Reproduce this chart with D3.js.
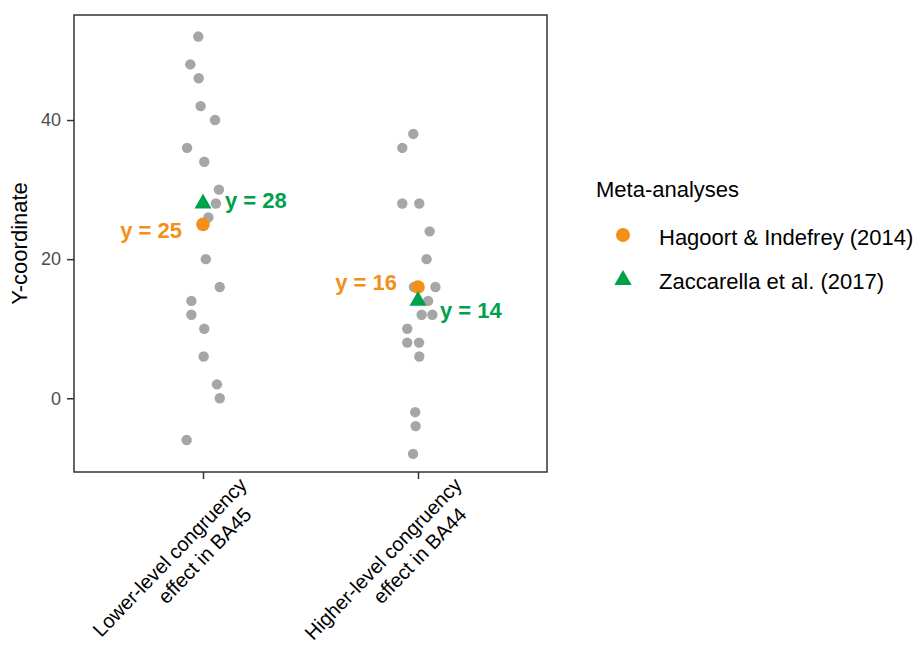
<!DOCTYPE html>
<html>
<head>
<meta charset="utf-8">
<script src="https://cdn.jsdelivr.net/npm/d3@7"></script>
<style>
  body { margin: 0; background: #fff; }
  text { font-family: "Liberation Sans", Arial, sans-serif; }
</style>
</head>
<body>
<div id="chart"></div>
<script>
// data
var categories = ["Lower-level congruency|effect in BA45", "Higher-level congruency|effect in BA44"];

var lowerY      = [52, 48, 46, 42, 40, 36, 34, 30, 28, 26, 20, 16, 14, 12, 10, 6, 2, 0, -6];
var lowerJitter = [-0.022, -0.059, -0.020, -0.011, 0.056, -0.074, 0.006, 0.074, 0.060, 0.025,
                   0.013, 0.078, -0.054, -0.054, 0.006, 0.003, 0.065, 0.078, -0.076];

var higherY      = [38, 36, 28, 28, 24, 20, 16, 16, 14, 12, 12, 10, 8, 8, 6, -2, -4, -8];
var higherJitter = [-0.022, -0.073, -0.073, 0.006, 0.054, 0.040, 0.081, -0.019, 0.047, 0.017,
                    0.067, -0.050, -0.050, 0.005, 0.006, -0.013, -0.011, -0.023];

var metaNames   = ["Hagoort & Indefrey (2014)", "Zaccarella et al. (2017)"];
var hagoortY    = [25, 16];
var zaccarellaY = [28, 14];

var yTicks = [0, 20, 40];

// settings
var W = 920, H = 646;
var panel = {left: 74, right: 547, top: 15, bottom: 472};
var grey = "#a6a6a6", orange = "#f39019", green = "#00a14b";

var svg = d3.select("#chart")
  .append("svg")
  .attr("width", W)
  .attr("height", H);

var x = d3.scalePoint()
  .domain(categories)
  .range([panel.left, panel.right])
  .padding(0.6);

var y = d3.scaleLinear()
  .domain([-10.6, 55.1])
  .range([panel.bottom, panel.top]);

// y axis
var yAxis = svg.append("g")
  .attr("transform", "translate(" + panel.left + ",0)")
  .call(d3.axisLeft(y).tickValues(yTicks).tickSize(7).tickPadding(6));
yAxis.select(".domain").remove();
yAxis.selectAll("line").attr("stroke", "#333").attr("stroke-width", 1.5);
yAxis.selectAll("text")
  .attr("font-size", 18)
  .attr("fill", "#4d4d4d")
  .style("font-family", "'Liberation Sans', Arial, sans-serif");

// x axis, labels drawn by hand below
var xAxis = svg.append("g")
  .attr("transform", "translate(0," + panel.bottom + ")")
  .call(d3.axisBottom(x).tickSize(7).tickFormat(""));
xAxis.select(".domain").remove();
xAxis.selectAll("line").attr("stroke", "#333").attr("stroke-width", 1.5);

categories.forEach(function(c) {
  var lines = c.split("|");
  var g = svg.append("g")
    .attr("transform", "translate(" + (x(c) + 45) + "," + (panel.bottom + 14) + ") rotate(-46)");
  g.append("text")
    .attr("text-anchor", "end")
    .attr("font-size", 20)
    .attr("fill", "#000")
    .text(lines[0]);
  g.append("text")
    .attr("text-anchor", "end")
    .attr("x", -18)
    .attr("y", 24)
    .attr("font-size", 20)
    .attr("fill", "#000")
    .text(lines[1]);
});

// axis title
svg.append("text")
  .attr("transform", "translate(27," + ((panel.top + panel.bottom) / 2) + ") rotate(-90)")
  .attr("text-anchor", "middle")
  .attr("font-size", 22)
  .text("Y-coordinate");

// grey points
var pts = [];
lowerY.forEach(function(v, i) { pts.push({cat: categories[0], y: v, j: lowerJitter[i]}); });
higherY.forEach(function(v, i) { pts.push({cat: categories[1], y: v, j: higherJitter[i]}); });

svg.append("g").selectAll("circle")
  .data(pts)
  .enter()
  .append("circle")
    .attr("cx", function(d) { return x(d.cat) + d.j * x.step(); })
    .attr("cy", function(d) { return y(d.y); })
    .attr("r", 5.2)
    .attr("fill", grey);

// meta-analysis points
svg.append("g").selectAll("circle")
  .data(hagoortY)
  .enter()
  .append("circle")
    .attr("cx", function(d, i) { return x(categories[i]); })
    .attr("cy", function(d) { return y(d); })
    .attr("r", 6.8)
    .attr("fill", orange);

var tri = d3.symbol().type(d3.symbolTriangle).size(125);
svg.append("g").selectAll("path")
  .data(zaccarellaY)
  .enter()
  .append("path")
    .attr("d", tri)
    .attr("transform", function(d, i) { return "translate(" + x(categories[i]) + "," + y(d) + ")"; })
    .attr("fill", green);

// value labels (pixel nudges to baseline)
var hagoortDy = [14, 3.5];
var zaccarellaDy = [4.5, 17];

svg.append("g").selectAll("text")
  .data(hagoortY)
  .enter()
  .append("text")
    .attr("x", function(d, i) { return x(categories[i]) - 21; })
    .attr("y", function(d, i) { return y(d) + hagoortDy[i]; })
    .attr("text-anchor", "end")
    .attr("font-size", 22)
    .attr("font-weight", "bold")
    .attr("fill", orange)
    .text(function(d) { return "y = " + d; });

svg.append("g").selectAll("text")
  .data(zaccarellaY)
  .enter()
  .append("text")
    .attr("x", function(d, i) { return x(categories[i]) + 22; })
    .attr("y", function(d, i) { return y(d) + zaccarellaDy[i]; })
    .attr("font-size", 22)
    .attr("font-weight", "bold")
    .attr("fill", green)
    .text(function(d) { return "y = " + d; });

// panel border
svg.append("rect")
  .attr("x", panel.left)
  .attr("y", panel.top)
  .attr("width", panel.right - panel.left)
  .attr("height", panel.bottom - panel.top)
  .attr("fill", "none")
  .attr("stroke", "#333")
  .attr("stroke-width", 1.5);

// legend
var legend = svg.append("g").attr("transform", "translate(596,0)");
legend.append("text")
  .attr("x", 0)
  .attr("y", 197)
  .attr("font-size", 22)
  .text("Meta-analyses");

legend.append("circle")
  .attr("cx", 27).attr("cy", 235).attr("r", 7)
  .attr("fill", orange);
legend.append("path")
  .attr("d", d3.symbol().type(d3.symbolTriangle).size(130))
  .attr("transform", "translate(27,280)")
  .attr("fill", green);

legend.selectAll(".lab")
  .data(metaNames)
  .enter()
  .append("text")
    .attr("class", "lab")
    .attr("x", 63)
    .attr("y", function(d, i) { return 245 + i * 43.5; })
    .attr("font-size", 22)
    .text(function(d) { return d; });
</script>
</body>
</html>
